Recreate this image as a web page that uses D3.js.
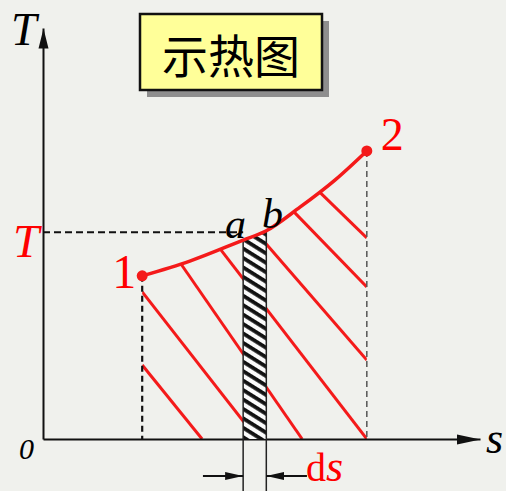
<!DOCTYPE html>
<html>
<head>
<meta charset="utf-8">
<script src="https://cdn.jsdelivr.net/npm/d3@7"></script>
<style>
  body { margin: 0; background: #f0f1ed; }
  svg { display: block; }
</style>
</head>
<body>
<div id="chart"></div>
<script>
const w = 506
const h = 491

// process 1 -> 2 on the T-s plane (arbitrary units)
const curveS = [2.27, 3.36, 4.58, 5.10, 5.88, 6.68, 7.41]
const curveT = [3.97, 4.33, 4.84, 5.06, 5.64, 6.30, 7.01]
const stateNames = ['1', '2']

// elementary strip a-b and its temperature
const stripS = [4.58, 5.11]
const levelT = 5.03

// red hatch lines under the curve: start point and end point (s, T)
const hatchFrom = [[2.27, 1.80], [2.27, 3.58], [3.13, 4.30], [4.00, 4.70], [4.90, 5.00], [5.72, 5.55], [6.29, 6.05]]
const hatchTo = [[3.64, 0], [4.90, 0], [5.93, 0], [7.41, 0], [7.41, 1.92], [7.41, 3.70], [7.41, 4.89]]

const title = '示热图'

const red = '#f41a1a'
const serif = '"Liberation Serif", "DejaVu Serif", serif'

const svg = d3.select('#chart')
    .append('svg')
    .attr('width', w)
    .attr('height', h)

const xScale = d3.scaleLinear().domain([0, 10]).range([43, 480])
const yScale = d3.scaleLinear().domain([0, 10]).range([439, 28])

// T on the curve for any s
const tAt = d3.scaleLinear().domain(curveS).range(curveT)

const pts = curveS.map((s, i) => [s, curveT[i]])

const defs = svg.append('defs')

defs.append('marker')
    .attr('id', 'arrowY')
    .attr('markerUnits', 'userSpaceOnUse')
    .attr('viewBox', '0 -6 20 12')
    .attr('refX', 20).attr('refY', 0)
    .attr('markerWidth', 20).attr('markerHeight', 12)
    .attr('orient', 'auto')
    .append('path')
    .attr('d', 'M0,-5L20,0L0,5Z')
    .attr('fill', '#111')

defs.append('marker')
    .attr('id', 'arrowX')
    .attr('markerUnits', 'userSpaceOnUse')
    .attr('viewBox', '0 -6 24 12')
    .attr('refX', 24).attr('refY', 0)
    .attr('markerWidth', 24).attr('markerHeight', 12)
    .attr('orient', 'auto')
    .append('path')
    .attr('d', 'M0,-5L24,0L0,5Z')
    .attr('fill', '#111')

defs.append('marker')
    .attr('id', 'arrowSmall')
    .attr('markerUnits', 'userSpaceOnUse')
    .attr('viewBox', '0 -5 18 10')
    .attr('refX', 18).attr('refY', 0)
    .attr('markerWidth', 18).attr('markerHeight', 10)
    .attr('orient', 'auto')
    .append('path')
    .attr('d', 'M0,-4L18,0L0,4Z')
    .attr('fill', '#111')

const stripes = defs.append('pattern')
    .attr('id', 'stripes')
    .attr('patternUnits', 'userSpaceOnUse')
    .attr('width', 20)
    .attr('height', 8)
    .attr('patternTransform', 'rotate(32)')
stripes.append('rect')
    .attr('width', 20)
    .attr('height', 3.8)
    .attr('fill', '#111')

const area = d3.area()
    .x(d => xScale(d[0]))
    .y0(yScale(0))
    .y1(d => yScale(d[1]))
    .curve(d3.curveMonotoneX)

defs.append('clipPath')
    .attr('id', 'under')
    .append('path')
    .attr('d', area(pts))

// title box
svg.append('rect')
    .attr('x', 147).attr('y', 21)
    .attr('width', 182).attr('height', 76)
    .attr('fill', '#8e8e8e')
svg.append('rect')
    .attr('x', 140).attr('y', 14)
    .attr('width', 182).attr('height', 76)
    .attr('fill', '#ffff99')
    .attr('stroke', '#111')
    .attr('stroke-width', 2.5)
svg.append('text')
    .attr('x', 231).attr('y', 53)
    .attr('text-anchor', 'middle')
    .attr('dominant-baseline', 'central')
    .style('font-family', '"Noto Sans CJK SC", sans-serif')
    .style('font-size', '46px')
    .attr('fill', '#000')
    .text(title)

// red hatching
svg.append('g')
    .attr('clip-path', 'url(#under)')
    .selectAll('line')
    .data(hatchFrom)
    .enter()
    .append('line')
    .attr('x1', d => xScale(d[0]))
    .attr('y1', d => yScale(d[1]))
    .attr('x2', (d, i) => xScale(hatchTo[i][0]))
    .attr('y2', (d, i) => yScale(hatchTo[i][1]))
    .attr('stroke', red)
    .attr('stroke-width', 3)

// axes
const xAxis = d3.axisBottom(xScale).tickValues([]).tickSizeOuter(0)
const yAxis = d3.axisLeft(yScale).tickValues([]).tickSizeOuter(0)

svg.append('g')
    .attr('id', 'x-axis')
    .attr('transform', `translate(0, ${yScale(0)})`)
    .call(xAxis)
    .select('.domain')
    .attr('stroke', '#111')
    .attr('stroke-width', 2)
    .attr('marker-end', 'url(#arrowX)')

svg.append('g')
    .attr('id', 'y-axis')
    .attr('transform', `translate(${xScale(0)}, 0)`)
    .call(yAxis)
    .select('.domain')
    .attr('stroke', '#111')
    .attr('stroke-width', 2)
    .attr('marker-end', 'url(#arrowY)')

// strip ds
const line = d3.line().x(d => xScale(d[0])).y(d => yScale(d[1]))
const stripPts = [[stripS[0], 0], [stripS[0], tAt(stripS[0])], [stripS[1], tAt(stripS[1])], [stripS[1], 0]]

svg.append('path')
    .attr('d', line(stripPts) + 'Z')
    .attr('fill', '#fbfbfb')
svg.append('path')
    .attr('d', line(stripPts) + 'Z')
    .attr('fill', 'url(#stripes)')

svg.selectAll('.strip-edge')
    .data(stripS)
    .enter()
    .append('line')
    .attr('class', 'strip-edge')
    .attr('x1', d => xScale(d))
    .attr('x2', d => xScale(d))
    .attr('y1', d => yScale(tAt(d)))
    .attr('y2', yScale(-1.35))
    .attr('stroke', '#222')
    .attr('stroke-width', 1.5)

// dimension arrows under the strip
svg.append('line')
    .attr('x1', xScale(stripS[0] - 0.92))
    .attr('x2', xScale(stripS[0]))
    .attr('y1', yScale(-0.9)).attr('y2', yScale(-0.9))
    .attr('stroke', '#111').attr('stroke-width', 2)
    .attr('marker-end', 'url(#arrowSmall)')
svg.append('line')
    .attr('x1', xScale(stripS[1] + 0.93))
    .attr('x2', xScale(stripS[1]))
    .attr('y1', yScale(-0.9)).attr('y2', yScale(-0.9))
    .attr('stroke', '#111').attr('stroke-width', 2)
    .attr('marker-end', 'url(#arrowSmall)')

// dashed guides
svg.append('line')
    .attr('x1', xScale(0)).attr('x2', xScale(stripS[0]))
    .attr('y1', yScale(levelT)).attr('y2', yScale(levelT))
    .attr('stroke', '#111')
    .attr('stroke-width', 2)
    .attr('stroke-dasharray', '7,4')

const ends = [pts[0], pts[pts.length - 1]]
svg.selectAll('.drop')
    .data(ends)
    .enter()
    .append('line')
    .attr('class', 'drop')
    .attr('x1', d => xScale(d[0])).attr('x2', d => xScale(d[0]))
    .attr('y1', d => yScale(d[1])).attr('y2', yScale(0))
    .attr('stroke', (d, i) => i ? '#555' : '#111')
    .attr('stroke-width', (d, i) => i ? 1.5 : 2.2)
    .attr('stroke-dasharray', '6,4')

// process curve
svg.append('path')
    .attr('d', d3.line().x(d => xScale(d[0])).y(d => yScale(d[1])).curve(d3.curveMonotoneX)(pts))
    .attr('fill', 'none')
    .attr('stroke', red)
    .attr('stroke-width', 3.5)

svg.selectAll('.state')
    .data(ends)
    .enter()
    .append('circle')
    .attr('class', 'state')
    .attr('cx', d => xScale(d[0]))
    .attr('cy', d => yScale(d[1]))
    .attr('r', 5.5)
    .attr('fill', red)

// labels
function label(x, y, txt, size, color, italic) {
    return svg.append('text')
        .attr('x', x).attr('y', y)
        .style('font-family', serif)
        .style('font-size', size + 'px')
        .style('font-style', italic ? 'italic' : 'normal')
        .attr('fill', color)
        .text(txt)
}

label(11, 45, 'T', 46, '#000', true)
label(13, 257, 'T', 47, '#f00', true)
label(xScale(ends[0][0]) - 30, yScale(ends[0][1]) + 12, stateNames[0], 48, '#f00', false)
label(xScale(ends[1][0]) + 14, yScale(ends[1][1]) - 1, stateNames[1], 46, '#f00', false)
label(225, 238, 'a', 42, '#000', true)
label(262, 228, 'b', 42, '#000', true)
label(19, 459, '0', 30, '#000', true)
label(486, 453, 's', 44, '#000', true)

const ds = label(306, 481, 'd', 40, '#f00', false)
ds.append('tspan').style('font-style', 'italic').style('font-size', '44px').text('s')
</script>
</body>
</html>
